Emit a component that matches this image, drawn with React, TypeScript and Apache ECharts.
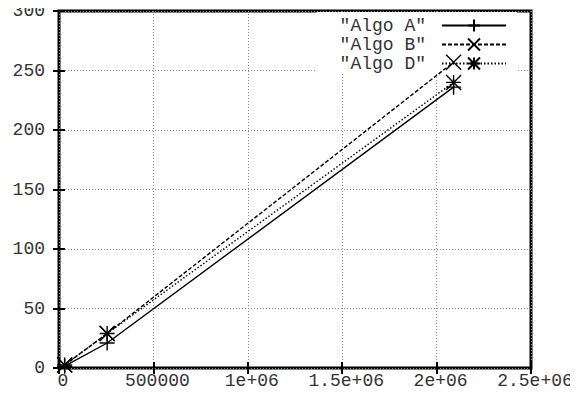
import React, { useEffect, useRef } from "react";
import * as echarts from "echarts";

const xValues = [30000, 255000, 2090000];
const algoA = [1.5, 21, 236];
const algoB = [2.5, 29, 257];
const algoD = [2.5, 29, 240];
const seriesNames = ['"Algo A"', '"Algo B"', '"Algo D"'];
const xTicks = [0, 500000, 1000000, 1500000, 2000000, 2500000];
const xTickLabels = ["0", "500000", "1e+06", "1.5e+06", "2e+06", "2.5e+06"];

const FONT = "Liberation Mono";

const plusSym = "path://M0,-8L0,8M-8,0L8,0";
const crossSym = "path://M-8,-8L8,8M-8,8L8,-8";
const starSym = "path://M0,-8L0,8M-8,0L8,0M-8,-8L8,8M-8,8L8,-8";

function fmtX(v: number): string {
  const i = xTicks.indexOf(v);
  return i >= 0 ? xTickLabels[i] : String(v);
}

export default function App() {
  const ref = useRef<HTMLDivElement>(null);
  useEffect(() => {
    if (!ref.current) return;
    const chart = echarts.init(ref.current, undefined, { renderer: "svg" });
    const mk = (name: string, ys: number[], sym: string, dash: any) => ({
      name,
      type: "line",
      data: xValues.map((x, i) => [x, ys[i]]),
      symbol: sym,
      symbolSize: 15,
      showSymbol: true,
      z: 3,
      lineStyle: { color: "#000", width: 1.4, type: dash },
      itemStyle: { color: "#000", borderColor: "#000", borderWidth: 1.4 },
      emphasis: { disabled: true },
    });
    const axisLabelStyle = { fontFamily: FONT, fontSize: 18, color: "#333" };
    chart.setOption({
      animation: false,
      backgroundColor: "#fff",
      grid: {
        left: 59,
        right: 47,
        top: 11,
        bottom: 35,
        show: true,
        borderColor: "#000",
        borderWidth: 3,
        backgroundColor: "transparent",
      },
      legend: {
        orient: "vertical",
        right: 61,
        top: 12,
        z: 1,
        align: "right",
        backgroundColor: "#fff",
        padding: [4, 10, 0, 23],
        itemWidth: 64,
        itemHeight: 15,
        itemGap: 0,
        data: seriesNames,
        textStyle: {
          fontFamily: FONT,
          fontSize: 18,
          lineHeight: 19,
          color: "#333",
          padding: [0, 11, 0, 0],
        },
        selectedMode: false,
      },
      xAxis: [
        {
          type: "value",
          min: 0,
          max: 2500000,
          interval: 500000,
          axisLine: { show: false },
          axisTick: { show: true, inside: true, length: 6, lineStyle: { color: "#000", width: 2 } },
          axisLabel: { ...axisLabelStyle, margin: 4, formatter: (v: number) => fmtX(v), padding: [0, 0, 0, 8] },
          splitLine: { show: true, lineStyle: { color: "#888", width: 1, type: [1, 2] } },
        },
        {
          type: "value",
          position: "top",
          min: 0,
          max: 2500000,
          interval: 500000,
          axisLine: { show: false },
          axisTick: { show: true, inside: true, length: 6, lineStyle: { color: "#000", width: 2 } },
          axisLabel: { show: false },
          splitLine: { show: false },
        },
      ],
      yAxis: [
        {
          type: "value",
          min: 0,
          max: 300,
          interval: 50,
          axisLine: { show: false },
          axisTick: { show: true, inside: true, length: 6, lineStyle: { color: "#000", width: 2 } },
          axisLabel: { ...axisLabelStyle, margin: 14 },
          splitLine: { show: true, lineStyle: { color: "#888", width: 1, type: [1, 2] } },
        },
        {
          type: "value",
          position: "right",
          min: 0,
          max: 300,
          interval: 50,
          axisLine: { show: false },
          axisTick: { show: true, inside: true, length: 6, lineStyle: { color: "#000", width: 2 } },
          axisLabel: { show: false },
          splitLine: { show: false },
        },
      ],
      series: [
        mk(seriesNames[0], algoA, plusSym, "solid"),
        mk(seriesNames[1], algoB, crossSym, [4, 2]),
        mk(seriesNames[2], algoD, starSym, [1.5, 2]),
      ],
    });
    return () => chart.dispose();
  }, []);
  return <div ref={ref} style={{ width: 578, height: 403, margin: -8 }} />;
}
